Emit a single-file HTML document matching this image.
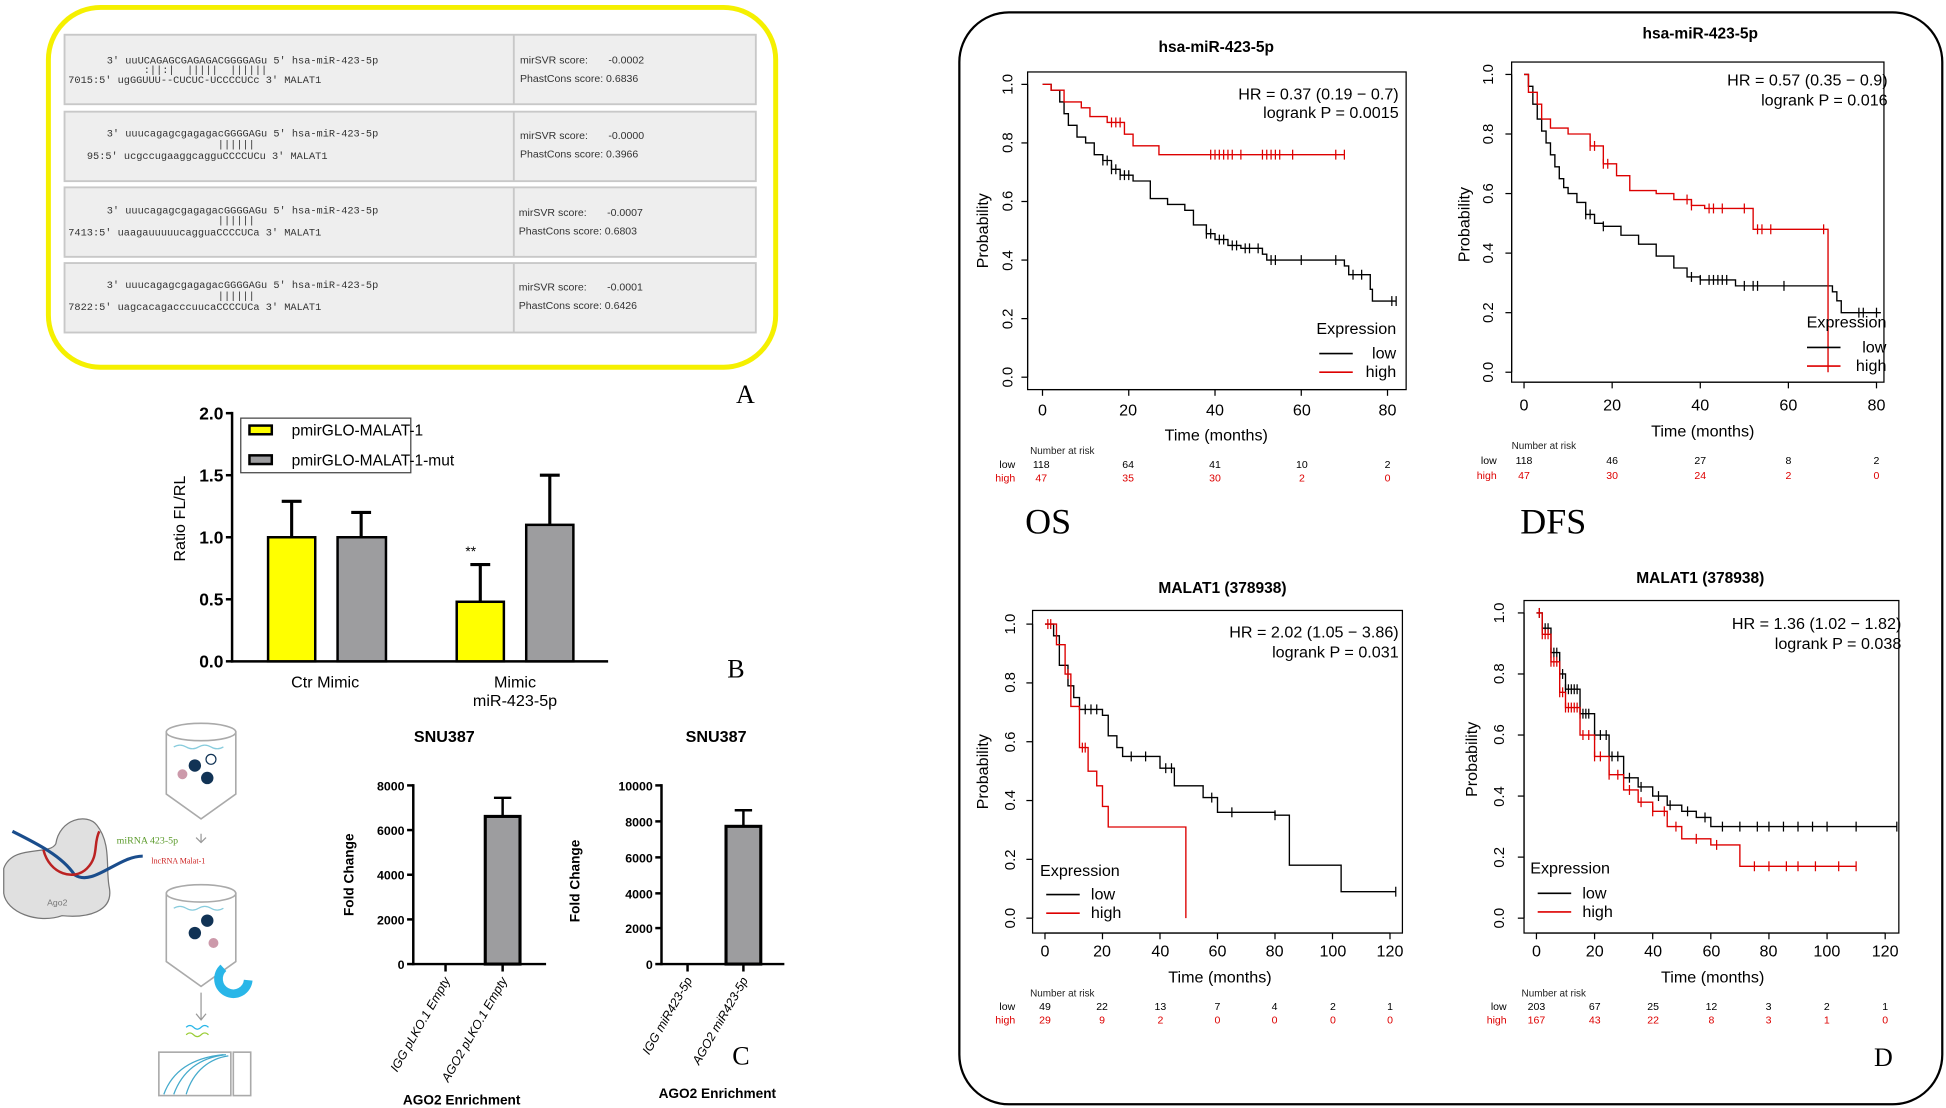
<!DOCTYPE html>
<html><head><meta charset="utf-8"><style>
html,body{margin:0;padding:0;background:#fff;}
svg{display:block;}
text{font-family:"Liberation Sans",sans-serif;}
.mono text{font-family:"Liberation Mono",monospace;font-size:8.3px;fill:#333;white-space:pre;}
.sm text{font-size:8.5px;fill:#333;white-space:pre;}
text.serif{font-family:"Liberation Serif",serif;}
</style></head><body>
<svg id="s" width="1946" height="1108" viewBox="0 0 1568 893" preserveAspectRatio="none" xmlns="http://www.w3.org/2000/svg" xml:space="preserve">
<rect width="1568" height="893" fill="#fff"/>
<!-- Panel A -->
<rect x="39" y="6" width="586" height="290" rx="42" fill="#fff" stroke="#f5f000" stroke-width="4"/>
<g stroke="#c8c8c8" stroke-width="1.5" fill="#eeeeee">
<rect x="52" y="28" width="557" height="56"/><rect x="52" y="90" width="557" height="56"/>
<rect x="52" y="151" width="557" height="56"/><rect x="52" y="212" width="557" height="56"/>
</g>
<g stroke="#c8c8c8" stroke-width="1.5"><line x1="414" y1="28" x2="414" y2="84"/><line x1="414" y1="90" x2="414" y2="146"/><line x1="414" y1="151" x2="414" y2="207"/><line x1="414" y1="212" x2="414" y2="268"/></g>
<g class="mono">
<text x="86" y="51">3' uuUCAGAGCGAGAGACGGGGAGu 5' hsa-miR-423-5p</text>
<text x="86" y="59">      :||:|  |||||  ||||||</text>
<text x="55" y="67">7015:5' ugGGUUU--CUCUC-UCCCCUCc 3' MALAT1</text>
<text x="86" y="110">3' uuucagagcgagagacGGGGAGu 5' hsa-miR-423-5p</text>
<text x="86" y="119">                  ||||||</text>
<text x="70" y="128">95:5' ucgccugaaggcagguCCCCUCu 3' MALAT1</text>
<text x="86" y="172">3' uuucagagcgagagacGGGGAGu 5' hsa-miR-423-5p</text>
<text x="86" y="180">                  ||||||</text>
<text x="55" y="190">7413:5' uaagauuuuucagguaCCCCUCa 3' MALAT1</text>
<text x="86" y="232">3' uuucagagcgagagacGGGGAGu 5' hsa-miR-423-5p</text>
<text x="86" y="241">                  ||||||</text>
<text x="55" y="250">7822:5' uagcacagacccuucaCCCCUCa 3' MALAT1</text>
</g>
<g class="sm">
<text x="419" y="51">mirSVR score:       -0.0002</text><text x="419" y="66">PhastCons score: 0.6836</text>
<text x="419" y="112">mirSVR score:       -0.0000</text><text x="419" y="127">PhastCons score: 0.3966</text>
<text x="418" y="174">mirSVR score:       -0.0007</text><text x="418" y="189">PhastCons score: 0.6803</text>
<text x="418" y="234">mirSVR score:       -0.0001</text><text x="418" y="249">PhastCons score: 0.6426</text>
</g>
<text x="593" y="325" class="serif" font-size="21">A</text>
<!-- Panel B -->
<g stroke="#000" stroke-width="2" fill="none">
<line x1="187" y1="332" x2="187" y2="534"/><line x1="186" y1="533" x2="490" y2="533"/>
<line x1="182" y1="333" x2="187" y2="333"/><line x1="182" y1="383" x2="187" y2="383"/><line x1="182" y1="433" x2="187" y2="433"/><line x1="182" y1="483" x2="187" y2="483"/><line x1="182" y1="533" x2="187" y2="533"/>
</g>
<g font-size="14" font-weight="bold" text-anchor="end"><text x="180" y="338">2.0</text><text x="180" y="388">1.5</text><text x="180" y="438">1.0</text><text x="180" y="488">0.5</text><text x="180" y="538">0.0</text></g>
<text transform="translate(149,418) rotate(-90)" text-anchor="middle" font-size="13">Ratio FL/RL</text>
<g stroke="#000" stroke-width="2.5">
<line x1="235" y1="433" x2="235" y2="404"/><line x1="227" y1="404" x2="243" y2="404"/>
<line x1="291" y1="433" x2="291" y2="413"/><line x1="283" y1="413" x2="299" y2="413"/>
<line x1="387" y1="485" x2="387" y2="455"/><line x1="379" y1="455" x2="395" y2="455"/>
<line x1="443" y1="423" x2="443" y2="383"/><line x1="435" y1="383" x2="451" y2="383"/>
</g>
<g stroke="#000" stroke-width="2">
<rect x="216" y="433" width="38" height="100" fill="#ffff00"/><rect x="272" y="433" width="39" height="100" fill="#9d9d9f"/>
<rect x="368" y="485" width="38" height="48" fill="#ffff00"/><rect x="424" y="423" width="38" height="110" fill="#9d9d9f"/>
</g>
<text x="375" y="448" font-size="11">**</text>
<rect x="194" y="337" width="137" height="44" fill="#fff" stroke="#444" stroke-width="1"/>
<rect x="201" y="343" width="18" height="7" fill="#ffff00" stroke="#000" stroke-width="2"/>
<rect x="201" y="367" width="18" height="7" fill="#9d9d9f" stroke="#000" stroke-width="2"/>
<g font-size="12.5"><text x="235" y="351">pmirGLO-MALAT-1</text><text x="235" y="375">pmirGLO-MALAT-1-mut</text></g>
<g font-size="13" text-anchor="middle"><text x="262" y="554">Ctr Mimic</text><text x="415" y="554">Mimic</text><text x="415" y="569">miR-423-5p</text></g>
<text x="586" y="546" class="serif" font-size="21">B</text>
<!-- Panel C cartoon -->
<path d="M3,700 C10,680 40,690 45,680 C48,660 70,655 78,665 C90,680 85,700 88,715 C92,735 70,740 50,738 C30,745 5,735 3,720 Z" fill="#e0e0e0" stroke="#777"/>
<text x="38" y="730" font-size="7" fill="#777">Ago2</text>
<path d="M10,670 C30,680 50,690 60,705 C75,715 95,690 115,690" stroke="#1a4d8c" stroke-width="2.5" fill="none"/>
<path d="M35,685 C40,705 60,710 70,700 C80,690 75,680 80,670" stroke="#b22" stroke-width="2" fill="none"/>
<text x="94" y="680" font-size="8" fill="#5a9a2a" class="serif">miRNA 423-5p</text>
<text x="122" y="696" font-size="6.5" fill="#c22" class="serif">lncRNA Malat-1</text>
<g fill="#fff" stroke="#aaa" stroke-width="1.3">
<path d="M134,590 L190,590 L190,640 L162,660 L134,640 Z"/><ellipse cx="162" cy="590" rx="28" ry="7"/>
<path d="M134,720 L190,720 L190,775 L162,795 L134,775 Z"/><ellipse cx="162" cy="720" rx="28" ry="7"/>
<rect x="128" y="848" width="58" height="35"/><rect x="188" y="848" width="14" height="35"/>
</g>
<path d="M140,602 q5,-3 10,0 q5,3 10,0 q5,-3 10,0 q5,3 10,0" stroke="#8cd" fill="none"/>
<path d="M140,732 q5,-3 10,0 q5,3 10,0 q5,-3 10,0 q5,3 10,0" stroke="#8cd" fill="none"/>
<circle cx="157" cy="617" r="5" fill="#135"/><circle cx="167" cy="627" r="5" fill="#135"/><circle cx="147" cy="624" r="4" fill="#c9a" /><circle cx="170" cy="612" r="4" fill="#fff" stroke="#135"/>
<circle cx="157" cy="752" r="5" fill="#135"/><circle cx="167" cy="742" r="5" fill="#135"/><circle cx="172" cy="760" r="4" fill="#c9a"/>
<path d="M180,780 a12,12 0 1 0 20,10" stroke="#29b6e8" stroke-width="7" fill="none"/>
<path d="M162,672 v6 M158,675 l4,4 l4,-4 M162,800 v22 M158,817 l4,5 l4,-5" stroke="#999" fill="none"/>
<path d="M150,828 q3,-3 6,0 q3,3 6,0 q3,-3 6,0" stroke="#29b6e8" fill="none"/><path d="M150,834 q3,-3 6,0 q3,3 6,0 q3,-3 6,0" stroke="#9c3" fill="none"/>
<path d="M132,882 C140,860 160,852 180,850 M140,882 C148,860 165,852 182,850 M150,882 C156,862 170,853 184,851" stroke="#4ac" fill="none"/>
<!-- Panel C charts -->
<g stroke="#000" stroke-width="2" fill="none">
<line x1="333" y1="632" x2="333" y2="778"/><line x1="333" y1="777" x2="440" y2="777"/>
<line x1="328" y1="633" x2="333" y2="633"/><line x1="328" y1="669" x2="333" y2="669"/><line x1="328" y1="705" x2="333" y2="705"/><line x1="328" y1="741" x2="333" y2="741"/><line x1="328" y1="777" x2="333" y2="777"/>
<line x1="359" y1="777" x2="359" y2="783"/><line x1="405" y1="777" x2="405" y2="783"/>
<line x1="405" y1="658" x2="405" y2="643"/><line x1="398" y1="643" x2="412" y2="643"/>
<line x1="533" y1="632" x2="533" y2="778"/><line x1="533" y1="777" x2="632" y2="777"/>
<line x1="528" y1="633" x2="533" y2="633"/><line x1="528" y1="662" x2="533" y2="662"/><line x1="528" y1="691" x2="533" y2="691"/><line x1="528" y1="720" x2="533" y2="720"/><line x1="528" y1="748" x2="533" y2="748"/><line x1="528" y1="777" x2="533" y2="777"/>
<line x1="554" y1="777" x2="554" y2="783"/><line x1="599" y1="777" x2="599" y2="783"/>
<line x1="599" y1="666" x2="599" y2="653"/><line x1="592" y1="653" x2="606" y2="653"/>
</g>
<rect x="391" y="658" width="28" height="119" fill="#9d9d9f" stroke="#000" stroke-width="2.5"/>
<rect x="585" y="666" width="28" height="111" fill="#9d9d9f" stroke="#000" stroke-width="2.5"/>
<g font-size="10" font-weight="bold" text-anchor="end">
<text x="326" y="637">8000</text><text x="326" y="673">6000</text><text x="326" y="709">4000</text><text x="326" y="745">2000</text><text x="326" y="781">0</text>
<text x="526" y="637">10000</text><text x="526" y="666">8000</text><text x="526" y="695">6000</text><text x="526" y="724">4000</text><text x="526" y="752">2000</text><text x="526" y="781">0</text>
</g>
<g font-size="13" font-weight="bold" text-anchor="middle"><text x="358" y="598">SNU387</text><text x="577" y="598">SNU387</text></g>
<g font-size="11" font-weight="bold" text-anchor="middle"><text x="372" y="890">AGO2  Enrichment</text><text x="578" y="885">AGO2  Enrichment</text>
<text transform="translate(285,705) rotate(-90)">Fold Change</text><text transform="translate(467,710) rotate(-90)">Fold Change</text></g>
<g font-size="10" font-style="italic" text-anchor="end">
<text transform="translate(363,790) rotate(-60)">IGG pLKO.1 Empty</text><text transform="translate(409,790) rotate(-60)">AGO2 pLKO.1 Empty</text>
<text transform="translate(558,790) rotate(-60)">IGG miR423-5p</text><text transform="translate(603,790) rotate(-60)">AGO2 miR423-5p</text>
</g>
<text x="590" y="858" class="serif" font-size="21">C</text>
<!-- Panel D -->
<rect x="773" y="10" width="792" height="880" rx="40" fill="none" stroke="#000" stroke-width="1.8"/>
<g font-size="12.5" font-weight="bold" text-anchor="middle">
<text x="980" y="42">hsa-miR-423-5p</text><text x="1370" y="31">hsa-miR-423-5p</text>
<text x="985" y="478">MALAT1 (378938)</text><text x="1370" y="470">MALAT1 (378938)</text></g>
<text x="826" y="430" class="serif" font-size="29">OS</text>
<text x="1225" y="430" class="serif" font-size="29">DFS</text>
<text x="1510" y="859" class="serif" font-size="21">D</text>
<g id="km"></g>
<g font-size="13" text-anchor="end">
<text x="1127" y="80">HR = 0.37 (0.19 − 0.7)</text><text x="1127" y="95">logrank P = 0.0015</text>
<text x="1521" y="69">HR = 0.57 (0.35 − 0.9)</text><text x="1521" y="85">logrank P = 0.016</text>
<text x="1127" y="514">HR = 2.02 (1.05 − 3.86)</text><text x="1127" y="530">logrank P = 0.031</text>
<text x="1532" y="507">HR = 1.36 (1.02 − 1.82)</text><text x="1532" y="523">logrank P = 0.038</text>
<text x="1125" y="269">Expression</text><text x="1125" y="289">low</text><text x="1125" y="304">high</text>
<text x="1520" y="264">Expression</text><text x="1520" y="284">low</text><text x="1520" y="299">high</text>
</g>
<g font-size="13">
<text x="838" y="706">Expression</text><text x="879" y="725">low</text><text x="879" y="740">high</text>
<text x="1233" y="704">Expression</text><text x="1275" y="724">low</text><text x="1275" y="739">high</text>
</g>
<g stroke-width="1.3"><line x1="1063" y1="285" x2="1090" y2="285" stroke="#000"/><line x1="1063" y1="300" x2="1090" y2="300" stroke="#d00"/>
<line x1="1456" y1="280" x2="1483" y2="280" stroke="#000"/><line x1="1456" y1="295" x2="1483" y2="295" stroke="#d00"/>
<line x1="843" y1="721" x2="870" y2="721" stroke="#000"/><line x1="843" y1="736" x2="870" y2="736" stroke="#d00"/>
<line x1="1239" y1="720" x2="1266" y2="720" stroke="#000"/><line x1="1239" y1="735" x2="1266" y2="735" stroke="#d00"/></g>
<g font-size="13" text-anchor="middle">
<text x="980" y="355">Time (months)</text><text x="1372" y="352">Time (months)</text>
<text x="983" y="792">Time (months)</text><text x="1380" y="792">Time (months)</text>
<text transform="translate(796,186) rotate(-90)">Probability</text><text transform="translate(1184,181) rotate(-90)">Probability</text>
<text transform="translate(796,622) rotate(-90)">Probability</text><text transform="translate(1190,612) rotate(-90)">Probability</text>
</g>
<g font-size="8" fill="#222"><text x="830" y="366">Number at risk</text><text x="1218" y="362">Number at risk</text><text x="830" y="803">Number at risk</text><text x="1226" y="803">Number at risk</text></g>
<g font-size="8.5" text-anchor="middle">
<g><text x="839" y="377">118</text><text x="909" y="377">64</text><text x="979" y="377">41</text><text x="1049" y="377">10</text><text x="1118" y="377">2</text></g>
<g fill="#d00"><text x="839" y="388">47</text><text x="909" y="388">35</text><text x="979" y="388">30</text><text x="1049" y="388">2</text><text x="1118" y="388">0</text></g>
<g><text x="1228" y="374">118</text><text x="1299" y="374">46</text><text x="1370" y="374">27</text><text x="1441" y="374">8</text><text x="1512" y="374">2</text></g>
<g fill="#d00"><text x="1228" y="386">47</text><text x="1299" y="386">30</text><text x="1370" y="386">24</text><text x="1441" y="386">2</text><text x="1512" y="386">0</text></g>
<g><text x="842" y="814">49</text><text x="888" y="814">22</text><text x="935" y="814">13</text><text x="981" y="814">7</text><text x="1027" y="814">4</text><text x="1074" y="814">2</text><text x="1120" y="814">1</text></g>
<g fill="#d00"><text x="842" y="825">29</text><text x="888" y="825">9</text><text x="935" y="825">2</text><text x="981" y="825">0</text><text x="1027" y="825">0</text><text x="1074" y="825">0</text><text x="1120" y="825">0</text></g>
<g><text x="1238" y="814">203</text><text x="1285" y="814">67</text><text x="1332" y="814">25</text><text x="1379" y="814">12</text><text x="1425" y="814">3</text><text x="1472" y="814">2</text><text x="1519" y="814">1</text></g>
<g fill="#d00"><text x="1238" y="825">167</text><text x="1285" y="825">43</text><text x="1332" y="825">22</text><text x="1379" y="825">8</text><text x="1425" y="825">3</text><text x="1472" y="825">1</text><text x="1519" y="825">0</text></g>
</g>
<g font-size="8.5" text-anchor="end"><text x="818" y="377">low</text><text x="818" y="388" fill="#d00">high</text><text x="1206" y="374">low</text><text x="1206" y="386" fill="#d00">high</text>
<text x="818" y="814">low</text><text x="818" y="825" fill="#d00">high</text><text x="1214" y="814">low</text><text x="1214" y="825" fill="#d00">high</text></g>
<g font-size="13" text-anchor="middle">
<text x="840" y="335">0</text><text x="909" y="335">20</text><text x="979" y="335">40</text><text x="1049" y="335">60</text><text x="1118" y="335">80</text>
<text x="1228" y="331">0</text><text x="1299" y="331">20</text><text x="1370" y="331">40</text><text x="1441" y="331">60</text><text x="1512" y="331">80</text>
<text x="842" y="771">0</text><text x="888" y="771">20</text><text x="935" y="771">40</text><text x="981" y="771">60</text><text x="1027" y="771">80</text><text x="1074" y="771">100</text><text x="1120" y="771">120</text>
<text x="1238" y="771">0</text><text x="1285" y="771">20</text><text x="1332" y="771">40</text><text x="1379" y="771">60</text><text x="1425" y="771">80</text><text x="1472" y="771">100</text><text x="1519" y="771">120</text>
</g>
<g font-size="12" text-anchor="middle">
<text transform="translate(816,68) rotate(-90)">1.0</text><text transform="translate(816,115) rotate(-90)">0.8</text><text transform="translate(816,162) rotate(-90)">0.6</text><text transform="translate(816,210) rotate(-90)">0.4</text><text transform="translate(816,257) rotate(-90)">0.2</text><text transform="translate(816,304) rotate(-90)">0.0</text>
<text transform="translate(1203,60) rotate(-90)">1.0</text><text transform="translate(1203,108) rotate(-90)">0.8</text><text transform="translate(1203,156) rotate(-90)">0.6</text><text transform="translate(1203,204) rotate(-90)">0.4</text><text transform="translate(1203,252) rotate(-90)">0.2</text><text transform="translate(1203,300) rotate(-90)">0.0</text>
<text transform="translate(818,503) rotate(-90)">1.0</text><text transform="translate(818,550) rotate(-90)">0.8</text><text transform="translate(818,598) rotate(-90)">0.6</text><text transform="translate(818,645) rotate(-90)">0.4</text><text transform="translate(818,693) rotate(-90)">0.2</text><text transform="translate(818,740) rotate(-90)">0.0</text>
<text transform="translate(1212,494) rotate(-90)">1.0</text><text transform="translate(1212,543) rotate(-90)">0.8</text><text transform="translate(1212,592) rotate(-90)">0.6</text><text transform="translate(1212,642) rotate(-90)">0.4</text><text transform="translate(1212,691) rotate(-90)">0.2</text><text transform="translate(1212,740) rotate(-90)">0.0</text>
</g>
</svg>
<script>
(function(){
var g=document.getElementById('km'),NS='http://www.w3.org/2000/svg';
function el(n,a){var e=document.createElementNS(NS,n);for(var k in a)e.setAttribute(k,a[k]);g.appendChild(e);return e;}
var plots=[
{box:[828,58,1133,314],x0:840,xs:(1118-840)/80,y1:68,y0:304,xt:[0,20,40,60,80],yt:[0,.2,.4,.6,.8,1],
 b:[[0,1],[2,.98],[4,.94],[5,.9],[6,.86],[8,.82],[10,.8],[12,.76],[14,.74],[16,.71],[18,.69],[21,.67],[25,.61],[29,.59],[33,.57],[35,.52],[38,.49],[40,.47],[43,.45],[46,.44],[51,.42],[52,.4],[70,.38],[71,.35],[76,.3],[76.5,.26],[82,.26]],
 bc:[14,15,16,17,18,19,20,38,39,41,42,44,45,47,48,50,53,54,60,68,72,74,81,82],
 r:[[0,1],[2,.98],[5,.94],[9,.92],[11,.89],[15,.87],[19,.83],[21,.79],[27,.76],[70,.76]],
 rc:[16,17,18,39,40,41,42,43,44,46,51,52,53,54,55,58,68,70]},
{box:[1218,50,1518,308],x0:1228,xs:(1512-1228)/80,y1:60,y0:300,xt:[0,20,40,60,80],yt:[0,.2,.4,.6,.8,1],
 b:[[0,1],[1,.96],[2,.9],[3,.85],[4,.81],[5,.77],[6,.73],[7,.69],[8,.65],[9,.62],[10,.6],[12,.57],[14,.53],[16,.5],[18,.49],[22,.46],[26,.43],[30,.39],[34,.35],[37,.32],[40,.31],[48,.29],[70,.27],[71,.24],[72,.2],[81,.2]],
 bc:[14,15,18,38,40,42,43,44,45,46,50,52,53,59,76,77,80],
 r:[[0,1],[1,.94],[3,.9],[4,.85],[6,.82],[10,.8],[15,.76],[18,.7],[21,.66],[24,.61],[30,.6],[34,.58],[38,.56],[41,.55],[52,.48],[69,.48],[69,0]],
 rc:[15,16,18,19,37,38,42,43,45,50,53,54,56,68]},
{box:[832,492,1130,752],x0:842,xs:(1120-842)/120,y1:503,y0:740,xt:[0,20,40,60,80,100,120],yt:[0,.2,.4,.6,.8,1],
 b:[[0,1],[3,.96],[5,.86],[8,.79],[10,.75],[12,.71],[20,.69],[22,.62],[25,.58],[27,.55],[40,.51],[45,.45],[55,.41],[60,.36],[80,.35],[85,.18],[103,.09],[122,.09]],
 bc:[14,16,18,30,35,42,44,58,65,80,122],
 r:[[0,1],[4,.93],[7,.83],[9,.72],[12,.58],[15,.5],[18,.45],[20,.38],[22,.31],[49,.31],[49,0]],
 rc:[1,2,8,13,14]},
{box:[1228,484,1530,752],x0:1238,xs:(1519-1238)/120,y1:494,y0:740,xt:[0,20,40,60,80,100,120],yt:[0,.2,.4,.6,.8,1],
 b:[[0,1],[2,.95],[5,.87],[8,.8],[10,.75],[15,.67],[20,.6],[25,.53],[30,.46],[35,.43],[40,.4],[45,.37],[50,.35],[55,.33],[60,.3],[124,.3]],
 bc:[1,2,3,4,5,6,7,8,9,10,11,12,13,14,15,16,17,18,20,22,24,26,28,32,36,42,46,52,58,64,70,76,80,85,90,95,100,110,124],
 r:[[0,1],[2,.93],[5,.84],[8,.74],[10,.69],[15,.6],[20,.53],[25,.47],[30,.42],[35,.38],[40,.35],[45,.3],[50,.26],[60,.24],[70,.17],[110,.17]],
 rc:[1,2,3,4,5,6,7,8,9,10,11,12,13,14,16,18,20,22,25,28,32,36,40,44,48,55,62,75,80,86,90,96,104,110]}
];
plots.forEach(function(p){
 var B=p.box;
 el('rect',{x:B[0],y:B[1],width:B[2]-B[0],height:B[3]-B[1],fill:'none',stroke:'#000','stroke-width':1});
 var X=function(t){return p.x0+t*p.xs}, Y=function(s){return p.y0-s*(p.y0-p.y1)};
 p.xt.forEach(function(t){el('line',{x1:X(t),y1:B[3],x2:X(t),y2:B[3]+5,stroke:'#000'})});
 el('line',{x1:X(p.xt[0]),y1:B[3],x2:X(p.xt[p.xt.length-1]),y2:B[3],stroke:'#000'});
 p.yt.forEach(function(s){el('line',{x1:B[0],y1:Y(s),x2:B[0]-5,y2:Y(s),stroke:'#000'})});
 el('line',{x1:B[0],y1:p.y1,x2:B[0],y2:p.y0,stroke:'#000'});
 [['b','#000'],['r','#d00']].forEach(function(c){
  var pts=p[c[0]],d='M'+X(pts[0][0])+','+Y(pts[0][1]);
  function sAt(t){var s=pts[0][1];for(var i=0;i<pts.length;i++){if(pts[i][0]<=t)s=pts[i][1];}return s;}
  for(var i=1;i<pts.length;i++){d+=' H'+X(pts[i][0])+' V'+Y(pts[i][1]);}
  el('path',{d:d,fill:'none',stroke:c[1],'stroke-width':1.1});
  p[c[0]+'c'].forEach(function(t){var y=Y(sAt(t));el('line',{x1:X(t),y1:y-4,x2:X(t),y2:y+4,stroke:c[1],'stroke-width':1})});
 });
});
})();
</script>
</body></html>
